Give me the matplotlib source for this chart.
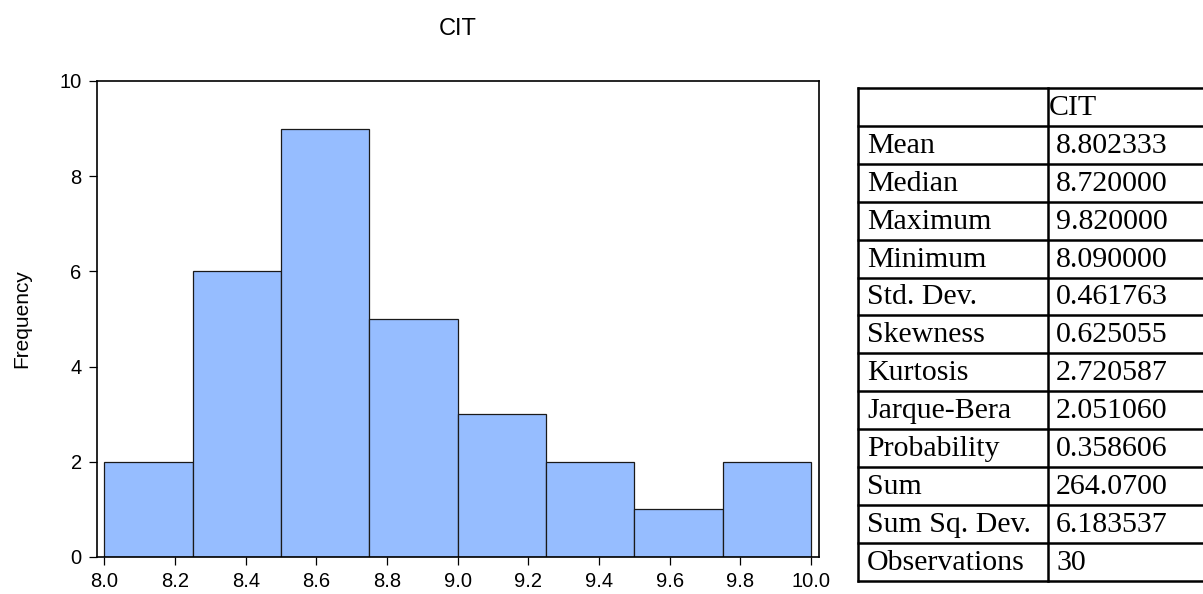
import numpy as np
import matplotlib.pyplot as plt

plt.rcParams['font.family'] = ['Liberation Sans', 'DejaVu Sans']

# histogram of CIT
bin_edges = [8.0, 8.25, 8.5, 8.75, 9.0, 9.25, 9.5, 9.75, 10.0]
counts = [2, 6, 9, 5, 3, 2, 1, 2]
xticks = [8.0, 8.2, 8.4, 8.6, 8.8, 9.0, 9.2, 9.4, 9.6, 9.8, 10.0]
yticks = [0, 2, 4, 6, 8, 10]

# descriptive statistics
series_name = 'CIT'
stat_names = ['Mean', 'Median', 'Maximum', 'Minimum', 'Std. Dev.', 'Skewness',
              'Kurtosis', 'Jarque-Bera', 'Probability', 'Sum', 'Sum Sq. Dev.',
              'Observations']
stat_values = ['8.802333', '8.720000', '9.820000', '8.090000', '0.461763',
               '0.625055', '2.720587', '2.051060', '0.358606', '264.0700',
               '6.183537', '30']

W, H = 1203, 594
fig = plt.figure(figsize=(W / 100, H / 100), dpi=100)

ax = fig.add_axes([97 / W, 1 - 557 / H, (819 - 97) / W, (557 - 81) / H])
left = np.array(bin_edges[:-1])
widths = np.diff(bin_edges)
ax.bar(left, counts, width=widths, align='edge', color='#96BDFF',
       edgecolor='#1a1a1a', linewidth=0.9)
ax.set_xlim(7.979, 10.023)
ax.set_ylim(0, 10)
ax.set_xticks(xticks)
ax.set_xticklabels([f'{t:.1f}' for t in xticks])
ax.set_yticks(yticks)
for s in ax.spines.values():
    s.set_linewidth(1.2)
ax.tick_params(labelsize=14.5, length=6, width=0.9, direction='out', pad=5)
ax.set_ylabel('Frequency', fontsize=15, labelpad=20)
ax.set_title('CIT', fontsize=17, pad=33)

# statistics table drawn in pixel coordinates
tab = fig.add_axes([0, 0, 1, 1])
tab.set_xlim(0, W)
tab.set_ylim(H, 0)
tab.axis('off')

x0, xsep, x1 = 858, 1048, 1210
y0, row_h = 88, 37.9
nrows = len(stat_names) + 1
y1 = y0 + nrows * row_h
for i in range(nrows + 1):
    y = y0 + i * row_h
    tab.plot([x0 - 1, x1], [y, y], color='black', lw=1.8, solid_capstyle='butt')
tab.plot([x0, x0], [y0, y1], color='black', lw=1.8)
tab.plot([xsep, xsep], [y0, y1], color='black', lw=1.8)

font = dict(family='Liberation Serif', fontsize=21.5, va='center')
tab.text(xsep + 1, y0 + row_h / 2 + 1, series_name, ha='left', **font)
for i, (name, val) in enumerate(zip(stat_names, stat_values)):
    yc = y0 + (i + 1.5) * row_h + 1
    tab.text(x0 + 9, yc, name, ha='left', **font)
    tab.text(xsep + 8, yc, val, ha='left', **font)

fig.savefig('out.png', dpi=100)
